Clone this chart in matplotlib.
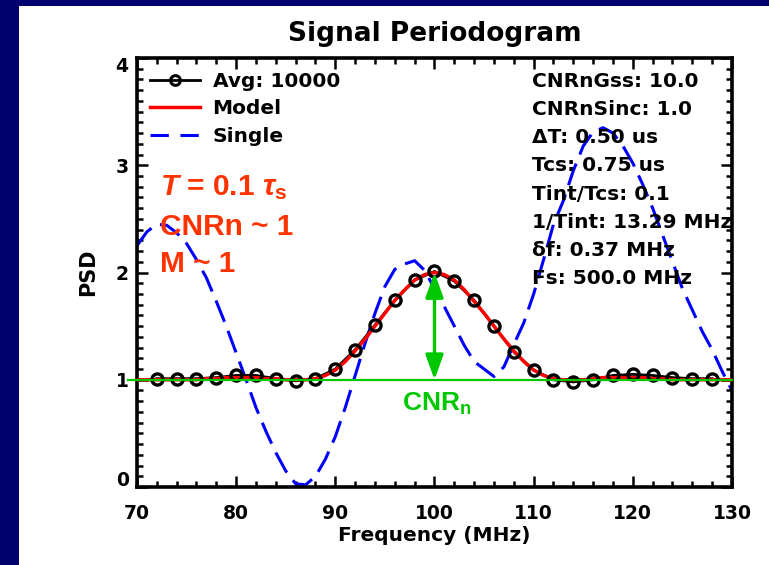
import matplotlib
matplotlib.use("Agg")
import matplotlib.pyplot as plt
from matplotlib.ticker import MultipleLocator
from matplotlib.transforms import ScaledTranslation
from matplotlib.patches import Rectangle
from matplotlib.lines import Line2D

# ---------------- data ----------------
freq_avg = [72, 74, 76, 78, 80, 82, 84, 86, 88, 90, 92, 94, 96, 98, 100,
            102, 104, 106, 108, 110, 112, 114, 116, 118, 120, 122, 124, 126, 128]
psd_avg = [1.01, 1.01, 1.01, 1.02, 1.04, 1.04, 1.01, 0.99, 1.01, 1.10, 1.28,
           1.51, 1.74, 1.93, 2.01, 1.92, 1.74, 1.50, 1.26, 1.09, 1.00, 0.98,
           1.00, 1.04, 1.05, 1.04, 1.02, 1.01, 1.01]

freq_fine = list(range(70, 131))
psd_model = [1.00, 1.00, 1.00, 1.00, 1.00, 1.00, 1.00, 1.01, 1.01, 1.02,
             1.02, 1.02, 1.02, 1.01, 1.01, 1.00, 1.00, 1.00,
             1.01, 1.04, 1.09, 1.17, 1.27, 1.38, 1.50, 1.62, 1.74, 1.84,
             1.93, 1.98, 2.00, 1.98, 1.93, 1.84, 1.73, 1.62, 1.50, 1.38,
             1.27, 1.17, 1.09, 1.04, 1.01,
             1.00, 1.00, 1.00, 1.01, 1.02, 1.02, 1.02, 1.02, 1.02, 1.01,
             1.01, 1.00, 1.00, 1.00, 1.00, 1.00, 1.00, 1.00]
psd_single = [2.25, 2.38, 2.45, 2.44, 2.37, 2.27, 2.12, 1.95, 1.73, 1.50,
              1.25, 1.00, 0.74, 0.52, 0.32, 0.15, 0.03, 0.02, 0.10, 0.26,
              0.47, 0.74, 1.04, 1.34, 1.62, 1.87, 2.03, 2.08, 2.11, 2.02,
              1.85, 1.68, 1.50, 1.32, 1.17, 1.10, 1.03, 1.12, 1.33, 1.53,
              1.80, 2.12, 2.45, 2.67, 2.95, 3.18, 3.31, 3.35, 3.30, 3.18,
              3.02, 2.82, 2.60, 2.35, 2.10, 1.85, 1.65, 1.45, 1.28, 1.08, 0.90]

noise_level = 1.0
peak_level = 2.0
peak_freq = 100

legend_labels = ["Avg: 10000", "Model", "Single"]
info_lines = ["CNRnGss: 10.0", "CNRnSinc: 1.0", "\u0394T: 0.50 us",
              "Tcs: 0.75 us", "Tint/Tcs: 0.1", "1/Tint: 13.29 MHz",
              "\u03b4f: 0.37 MHz", "Fs: 500.0 MHz"]
red_lines = [r"$T$ = 0.1 $\tau_\mathrm{s}$", "CNRn ~ 1", "M ~ 1"]

# ---------------- style ----------------
plt.rcParams['font.family'] = ['DejaVu Sans']
plt.rcParams['font.weight'] = 'bold'
plt.rcParams['mathtext.fontset'] = 'custom'
plt.rcParams['mathtext.rm'] = 'Liberation Sans:bold'
plt.rcParams['mathtext.it'] = 'Liberation Sans:bold:italic'
plt.rcParams['mathtext.bf'] = 'Liberation Sans:bold'

W, H = 769, 565
fig = plt.figure(figsize=(W / 100, H / 100), dpi=100, facecolor='#00006e')
bg = Rectangle((19 / W, 0), 1 - 19 / W, 1 - 6 / H, transform=fig.transFigure,
               facecolor='white', edgecolor='none', zorder=-10)
fig.add_artist(bg)

ax = fig.add_axes([137 / W, 1 - 487 / H, 595 / W, 429 / H])
ax.set_zorder(1)
ax.set_facecolor('white')

blue_dash = (7.5, 3.2)
ax.plot(freq_fine, psd_single, color='#0000ff', lw=2.2, dashes=blue_dash,
        zorder=2)
ax.plot(freq_avg, psd_avg, color='black', lw=2.0, zorder=3)
ax.plot(freq_fine, psd_model, color='#ff0000', lw=2.5, zorder=4)
ax.plot(freq_avg, psd_avg, ls='none', marker='o', ms=8, mfc='none',
        mec='black', mew=2.4, zorder=5)

ax.axhline(noise_level, xmin=-0.015, xmax=1.0, color='#00c800', lw=1.6,
           zorder=6, clip_on=False)
ax.annotate('', xy=(peak_freq, peak_level), xytext=(peak_freq, noise_level),
            arrowprops=dict(arrowstyle='<|-|>,head_length=0.75,head_width=0.27',
                            color='#00c800', lw=2.4, mutation_scale=20,
                            shrinkA=0, shrinkB=0), zorder=7)
ax.text(96.7, 0.715, r"CNR$_\mathrm{n}$", color='#00c800', fontsize=19,
        family='Liberation Sans', weight='bold', ha='left', va='baseline',
        zorder=8)

for i, s in enumerate(red_lines):
    ax.text(72.3, [2.72, 2.35, 2.0][i], s, color='#ff3300', fontsize=21.5,
            family='Liberation Sans', weight='bold', ha='left', va='baseline',
            zorder=8)

for i, s in enumerate(info_lines):
    ax.text(109.8, 3.78 - i * 28.1 / 107.2, s, fontsize=14.5, weight='bold',
            ha='left', va='center', zorder=8)

# legend
h_avg = Line2D([], [], color='black', lw=2.0, marker='o', ms=7, mfc='none',
               mec='black', mew=2.2)
h_mod = Line2D([], [], color='#ff0000', lw=2.5)
h_sgl = Line2D([], [], color='#0000ff', lw=2.2, dashes=(6.0, 3.8))
leg = ax.legend([h_avg, h_mod, h_sgl], legend_labels, loc='upper left',
                bbox_to_anchor=(0.022, 0.968), frameon=False, fontsize=14.5,
                handlelength=2.5, handletextpad=0.6, labelspacing=0.43,
                borderpad=0, borderaxespad=0)
leg.set_zorder(8)

ax.set_xlim(70, 130)
ax.set_ylim(0, 4)
ax.xaxis.set_major_locator(MultipleLocator(10))
ax.xaxis.set_minor_locator(MultipleLocator(2))
ax.yaxis.set_major_locator(MultipleLocator(1))
ax.yaxis.set_minor_locator(MultipleLocator(0.1))
ax.tick_params(which='both', direction='in', top=True, right=True,
               width=1.8, colors='black')
ax.tick_params(which='major', length=8)
ax.tick_params(which='minor', length=4.5)
ax.tick_params(axis='x', which='major', pad=12, labelsize=13.5)
ax.tick_params(axis='y', which='major', pad=6, labelsize=13.5)
for sp in ax.spines.values():
    sp.set_linewidth(2.6)

ax.set_title("Signal Periodogram", fontsize=19, weight='bold', pad=12)
ax.set_xlabel("Frequency (MHz)", fontsize=14.5, weight='bold')
ax.set_ylabel("PSD", fontsize=15, weight='bold')
ax.xaxis.set_label_coords(0.5, -0.092)
ax.yaxis.set_label_coords(-0.066, 0.5)

fig.canvas.draw()
for lab in ax.get_yticklabels():
    if lab.get_text() == '0':
        lab.set_transform(lab.get_transform() + ScaledTranslation(0, 0.08, fig.dpi_scale_trans))
    if lab.get_text() == '4':
        lab.set_transform(lab.get_transform() + ScaledTranslation(0, -0.06, fig.dpi_scale_trans))

fig.savefig("out.png", dpi=100, facecolor=fig.get_facecolor())
